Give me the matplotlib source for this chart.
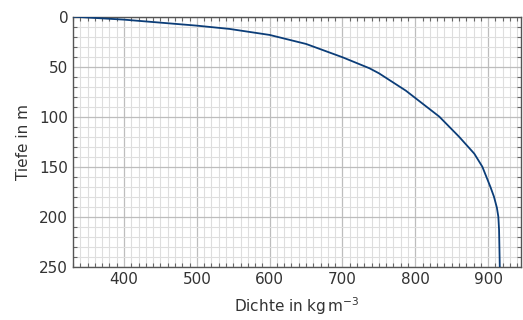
import matplotlib
matplotlib.use("Agg")
import matplotlib.pyplot as plt
from matplotlib.ticker import MultipleLocator

# Dichte-Tiefe-Profil
dichte = [330, 400, 450, 500, 545, 600, 650, 700, 737, 750, 787, 833, 860, 881,
          892, 903, 908, 912, 914, 915, 916]
tiefe = [0, 3, 6, 9, 12.3, 18.3, 27.3, 40.6, 51.6, 56.6, 74, 100, 120, 137,
         150, 170, 180, 191, 200, 213, 250]

text_col = "#333333"
line_col = "#0b3d78"

fig = plt.figure(figsize=(5.23, 3.2), dpi=100)
ax = fig.add_axes([0.1396, 0.1666, 0.8564, 0.7814])

ax.plot(dichte, tiefe, color=line_col, lw=1.3, zorder=3)

ax.set_xlim(330, 945)
ax.set_ylim(250, 0)

ax.xaxis.set_major_locator(MultipleLocator(100))
ax.xaxis.set_minor_locator(MultipleLocator(10))
ax.yaxis.set_major_locator(MultipleLocator(50))
ax.yaxis.set_minor_locator(MultipleLocator(10))

ax.grid(which="major", color="#bdbdbd", lw=0.9)
ax.grid(which="minor", color="#dedede", lw=0.8)
ax.set_axisbelow(True)

for s in ax.spines.values():
    s.set_color("#555555")
    s.set_linewidth(1.0)

ax.tick_params(which="both", direction="in", top=True, right=True,
               colors="#666666", labelcolor=text_col, labelsize=11)
ax.tick_params(which="major", length=0)
ax.tick_params(which="minor", length=3, width=0.8)

ax.set_xlabel("Dichte in kg$\\,$m$^{-3}$", fontsize=11, color=text_col, labelpad=6)
ax.set_ylabel("Tiefe in m", fontsize=11, color=text_col, labelpad=6)

fig.savefig("out.png", dpi=100)
